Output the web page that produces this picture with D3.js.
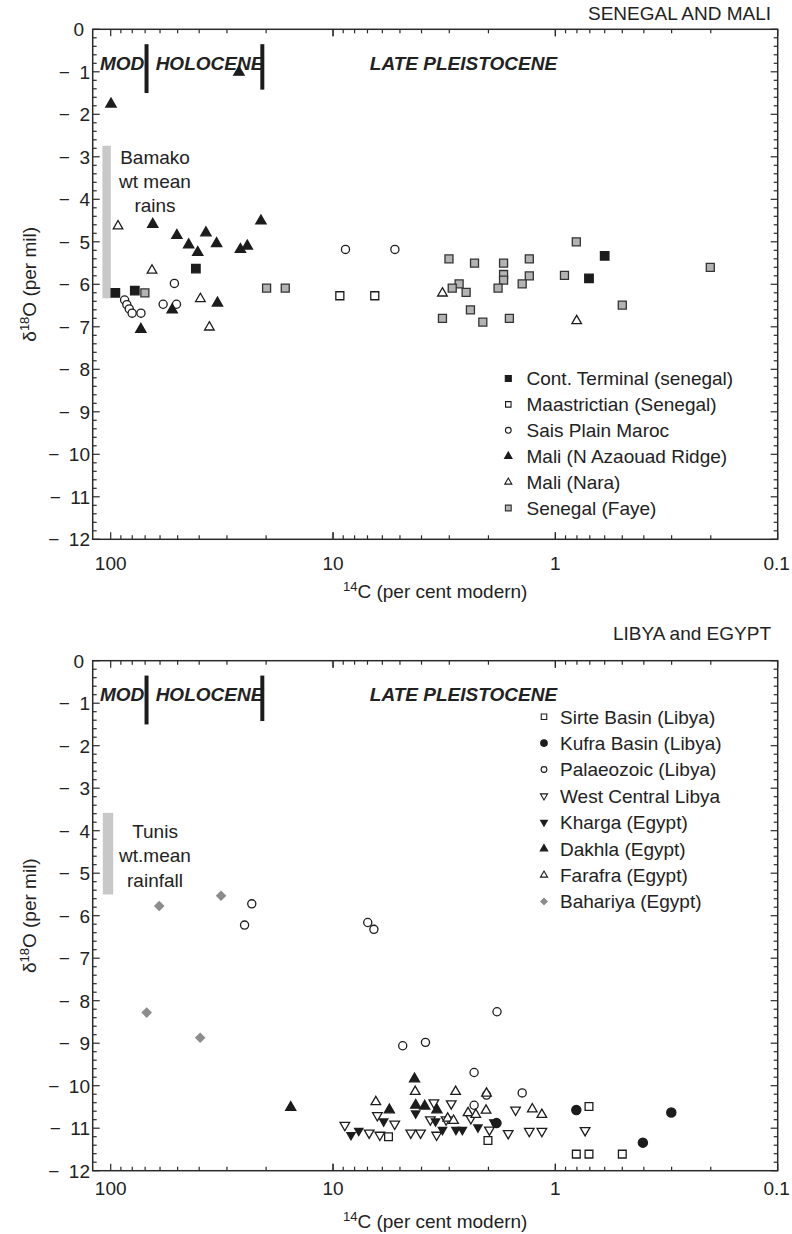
<!DOCTYPE html>
<html>
<head>
<meta charset="utf-8">
<script src="https://cdn.jsdelivr.net/npm/d3@7"></script>
<style>
  body { margin: 0; background: #fff; }
  svg { display: block; }
  text { font-family: "Liberation Sans", Arial, Helvetica, sans-serif; fill: #222; }
</style>
</head>
<body>
<div id="chart"></div>
<script>
// ---------- Senegal and Mali: [14C pmc, d18O per mil] ----------
const contTerminal = [[95.3,-6.20],[77.9,-6.15],[41.4,-5.63],[0.60,-5.33],[0.706,-5.86]];
const maastrictian = [[9.32,-6.27],[6.49,-6.27]];
const saisPlain = [[86.6,-6.37],[84.6,-6.48],[82.5,-6.58],[80.1,-6.68],[73.1,-6.68],
  [58.1,-6.47],[50.6,-6.47],[51.7,-5.98],[8.79,-5.18],[5.27,-5.18]];
const maliAzaouad = [[99.7,-1.76],[26.5,-1.01],[64.7,-4.59],[50.4,-4.85],[44.6,-5.07],
  [40.6,-5.25],[37.3,-4.79],[33.4,-5.04],[26.1,-5.18],[24.3,-5.10],[21.1,-4.51],
  [73.2,-7.06],[52.9,-6.60],[33.1,-6.44]];
const maliNara = [[92.7,-4.63],[65.2,-5.67],[39.5,-6.34],[36.0,-7.01],[3.22,-6.21],[0.802,-6.86]];
const senegalFaye = [[70.2,-6.20],[19.9,-6.09],[16.4,-6.09],[3.01,-5.40],[2.31,-5.50],
  [1.71,-5.50],[1.31,-5.40],[1.71,-5.77],[1.71,-5.90],[1.31,-5.80],[0.91,-5.79],
  [1.41,-5.99],[1.81,-6.09],[2.71,-5.99],[2.91,-6.09],[2.52,-6.19],[3.22,-6.80],
  [2.41,-6.60],[2.12,-6.89],[1.61,-6.80],[0.805,-5.00],[0.50,-6.49],[0.201,-5.60]];

// ---------- Libya and Egypt ----------
const sirteBasin = [[5.63,-11.20],[2.01,-11.29],[0.706,-10.49],[0.805,-11.61],[0.706,-11.61],[0.50,-11.61]];
const kufraBasin = [[1.84,-10.88],[0.805,-10.57],[0.301,-10.63],[0.404,-11.34]];
const palaeozoic = [[23.2,-5.72],[25.0,-6.22],[6.98,-6.16],[6.55,-6.32],[4.86,-9.06],
  [3.84,-8.98],[1.83,-8.26],[2.32,-9.69],[1.41,-10.17],[2.04,-10.22],[2.32,-10.46]];
const westCentral = [[8.85,-10.93],[6.88,-11.11],[6.16,-11.16],[6.32,-10.70],[5.28,-10.90],
  [4.47,-11.11],[4.04,-11.11],[3.52,-10.40],[3.42,-11.16],[2.94,-10.42],[3.65,-10.80],
  [3.10,-10.80],[2.40,-10.77],[1.98,-11.04],[1.63,-11.12],[1.51,-10.57],[1.31,-11.07],
  [1.15,-11.07],[0.735,-11.05]];
const kharga = [[8.30,-11.16],[7.66,-11.06],[5.92,-10.84],[4.25,-10.65],[3.46,-10.84],
  [3.22,-11.04],[2.80,-11.04],[2.62,-11.04],[2.23,-10.98],[1.89,-10.86]];
const dakhla = [[15.5,-10.51],[5.58,-10.57],[4.30,-9.84],[4.25,-10.46],[3.87,-10.48],[3.41,-10.57]];
const farafra = [[6.42,-10.38],[4.27,-10.14],[2.81,-10.14],[2.04,-10.18],[3.05,-10.77],
  [2.87,-10.82],[2.47,-10.64],[2.28,-10.68],[2.05,-10.58],[1.27,-10.55],[1.15,-10.68]];
const bahariya = [[68.9,-8.28],[60.5,-5.77],[39.6,-8.87],[31.9,-5.53]];

// ---------- axis ticks ----------
const yMajor = d3.range(0, -13, -1);
const xMajor = [100, 10, 1, 0.1];
const xTickLabels = ["100", "10", "1", "0.1"];

// ---------- layout ----------
const W = 792, H = 1234;
const X0 = 92.7, X1 = 777.7, PH = 510;
const svg = d3.select("#chart").append("svg").attr("width", W).attr("height", H);
const x = d3.scaleLog().domain([120.5, 0.1]).range([X0, X1]);

const INK = "#1c1c1c";
const shapes = {
  square:   { type: d3.symbolSquare,   rot: 0 },
  circle:   { type: d3.symbolCircle,   rot: 0 },
  triUp:    { type: d3.symbolTriangle, rot: 0 },
  triDown:  { type: d3.symbolTriangle, rot: 180 },
  diamond:  { type: d3.symbolSquare,   rot: 45 }
};

const panels = [
  {
    title: "SENEGAL AND MALI", top: 29.3, titleGap: 9.3, tickLabelGap: 30.7, xLabelGap: 59,
    band: { x: 106.6, w: 8.4, from: -2.74, to: -6.33 },
    bandText: ["Bamako", "wt mean", "rains"], bandTextY: [-3.18, -3.74, -4.31],
    legend: { mx: 508.3, tx: 526.5, y0: 378.5, step: 25.9 },
    series: [
      { name: "Cont. Terminal (senegal)", data: contTerminal, shape: "square", size: 72, lsize: 36, fill: INK, stroke: INK },
      { name: "Maastrictian (Senegal)", data: maastrictian, shape: "square", size: 64, lsize: 30, fill: "#fff", stroke: INK },
      { name: "Sais Plain Maroc", data: saisPlain, shape: "circle", size: 52, lsize: 26, fill: "#fff", stroke: INK },
      { name: "Mali (N Azaouad Ridge)", data: maliAzaouad, shape: "triUp", size: 46, lsize: 24, fill: INK, stroke: INK },
      { name: "Mali (Nara)", data: maliNara, shape: "triUp", size: 40, lsize: 22, fill: "#fff", stroke: INK },
      { name: "Senegal (Faye)", data: senegalFaye, shape: "square", size: 64, lsize: 34, fill: "#b3b3b3", stroke: "#333" }
    ]
  },
  {
    title: "LIBYA and EGYPT", top: 660.7, titleGap: 20.7, tickLabelGap: 24.3, xLabelGap: 57.3,
    band: { x: 108, w: 10.4, from: -3.58, to: -5.5 },
    bandText: ["Tunis", "wt.mean", "rainfall"], bandTextY: [-4.18, -4.73, -5.32],
    legend: { mx: 544, tx: 560, y0: 716.7, step: 26.4 },
    series: [
      { name: "Sirte Basin (Libya)", data: sirteBasin, shape: "square", size: 60, lsize: 30, fill: "#fff", stroke: INK },
      { name: "Kufra Basin (Libya)", data: kufraBasin, shape: "circle", size: 66, lsize: 34, fill: INK, stroke: INK },
      { name: "Palaeozoic (Libya)", data: palaeozoic, shape: "circle", size: 52, lsize: 26, fill: "#fff", stroke: INK },
      { name: "West Central Libya", data: westCentral, shape: "triDown", size: 40, lsize: 22, fill: "#fff", stroke: INK },
      { name: "Kharga (Egypt)", data: kharga, shape: "triDown", size: 30, lsize: 20, fill: INK, stroke: INK },
      { name: "Dakhla (Egypt)", data: dakhla, shape: "triUp", size: 44, lsize: 24, fill: INK, stroke: INK },
      { name: "Farafra (Egypt)", data: farafra, shape: "triUp", size: 40, lsize: 22, fill: "#fff", stroke: INK },
      { name: "Bahariya (Egypt)", data: bahariya, shape: "diamond", size: 56, lsize: 32, fill: "#8c8c8c", stroke: "none" }
    ]
  }
];

function symbolPath(shape, size) {
  return d3.symbol(shapes[shape].type, size)();
}

function drawPanel(p) {
  const y = d3.scaleLinear().domain([0, -12]).range([p.top, p.top + PH]);
  const g = svg.append("g");
  const Y0 = p.top, Y1 = p.top + PH;

  // rainfall reference band
  g.append("rect")
    .attr("x", p.band.x - p.band.w / 2).attr("width", p.band.w)
    .attr("y", y(p.band.from)).attr("height", y(p.band.to) - y(p.band.from))
    .attr("fill", "#c8c8c8");
  g.selectAll(".bandtxt").data(p.bandText).join("text")
    .attr("class", "bandtxt")
    .attr("x", x(63.2)).attr("y", (d, i) => y(p.bandTextY[i]))
    .attr("text-anchor", "middle").attr("font-size", 19).text(d => d);

  // period labels and dividers
  const eras = [{ t: "MOD", v: 111.7 }, { t: "HOLOCENE", v: 62.8 }, { t: "LATE PLEISTOCENE", v: 6.83 }];
  g.selectAll(".era").data(eras).join("text")
    .attr("class", "era")
    .attr("x", d => x(d.v)).attr("y", y(-0.95))
    .attr("font-size", 19).attr("font-weight", "bold").attr("font-style", "italic")
    .text(d => d.t);
  const dividers = [{ v: 69, lo: -1.5 }, { v: 20.8, lo: -1.42 }];
  g.selectAll(".div").data(dividers).join("line")
    .attr("class", "div")
    .attr("x1", d => x(d.v)).attr("x2", d => x(d.v))
    .attr("y1", y(-0.35)).attr("y2", d => y(d.lo))
    .attr("stroke", INK).attr("stroke-width", 4);

  // y ticks (left and right, inward)
  const yMinor = d3.range(0, -12.001, -0.2).map(v => +v.toFixed(1));
  yMinor.forEach(v => {
    const major = Math.abs(v - Math.round(v)) < 1e-6;
    const len = major ? 7 : 4;
    g.append("line").attr("x1", X0).attr("x2", X0 + len).attr("y1", y(v)).attr("y2", y(v))
      .attr("stroke", "#2a2a2a").attr("stroke-width", 1.2);
    g.append("line").attr("x1", X1 - len).attr("x2", X1).attr("y1", y(v)).attr("y2", y(v))
      .attr("stroke", "#2a2a2a").attr("stroke-width", 1.2);
  });

  // x ticks (top and bottom, inward) on log decades
  const xMinor = [];
  [100, 10, 1].forEach(dec => { for (let k = 10; k >= 1; k--) xMinor.push(dec * k / 10); });
  xMinor.forEach(v => {
    const major = xMajor.some(m => Math.abs(m - v) / m < 1e-6);
    const len = major ? 7 : 4;
    g.append("line").attr("x1", x(v)).attr("x2", x(v)).attr("y1", Y1 - len).attr("y2", Y1)
      .attr("stroke", "#2a2a2a").attr("stroke-width", 1.2);
    g.append("line").attr("x1", x(v)).attr("x2", x(v)).attr("y1", Y0).attr("y2", Y0 + len)
      .attr("stroke", "#2a2a2a").attr("stroke-width", 1.2);
  });
  g.selectAll(".xlab").data(xMajor).join("text")
    .attr("class", "xlab")
    .attr("x", (d, i) => i === 3 ? x(d) - 1 : x(d)).attr("y", Y1 + p.tickLabelGap)
    .attr("text-anchor", "middle").attr("font-size", 19)
    .text((d, i) => xTickLabels[i]);

  // frame
  g.append("rect").attr("x", X0).attr("y", Y0).attr("width", X1 - X0).attr("height", PH)
    .attr("fill", "none").attr("stroke", "#2a2a2a").attr("stroke-width", 1.5);

  // axis titles
  const xl = g.append("text").attr("x", (X0 + X1) / 2).attr("y", Y1 + p.xLabelGap)
    .attr("text-anchor", "middle").attr("font-size", 19);
  xl.append("tspan").attr("font-size", 13).attr("dy", -7).text("14");
  xl.append("tspan").attr("dy", 7).text("C (per cent modern)");

  const yl = g.append("text")
    .attr("transform", `translate(36,${(Y0 + Y1) / 2}) rotate(-90)`)
    .attr("text-anchor", "middle").attr("font-size", 19);
  yl.append("tspan").text("\u03b4");
  yl.append("tspan").attr("font-size", 13).attr("dy", -7).text("18");
  yl.append("tspan").attr("dy", 7).text("O (per mil)");

  // panel title
  g.append("text").attr("x", 771).attr("y", Y0 - p.titleGap)
    .attr("text-anchor", "end").attr("font-size", 19).text(p.title);

  // data points
  p.series.forEach(s => {
    g.append("g").selectAll("path").data(s.data).join("path")
      .attr("d", symbolPath(s.shape, s.size))
      .attr("transform", d => `translate(${x(d[0])},${y(d[1])}) rotate(${shapes[s.shape].rot})`)
      .attr("fill", s.fill).attr("stroke", s.stroke).attr("stroke-width", 1.3);
  });

  // legend
  const lg = g.append("g");
  p.series.forEach((s, i) => {
    const ly = p.legend.y0 + i * p.legend.step;
    lg.append("path").attr("d", symbolPath(s.shape, s.lsize))
      .attr("transform", `translate(${p.legend.mx},${ly}) rotate(${shapes[s.shape].rot})`)
      .attr("fill", s.fill).attr("stroke", s.stroke).attr("stroke-width", 1.1);
    lg.append("text").attr("x", p.legend.tx).attr("y", ly).attr("dy", "0.36em")
      .attr("font-size", 19).text(s.name);
  });

  // y tick labels, drawn last: right-aligned with a spaced minus sign
  const yl2 = g.append("g").attr("class", "ytick-labels");
  yMajor.forEach(d => {
    yl2.append("text")
      .attr("x", d === 0 ? 84 : 90).attr("y", y(d)).attr("dy", "0.36em")
      .attr("text-anchor", "end").attr("font-size", 19).attr("fill", "#222")
      .text(d === 0 ? "0" : "\u2212\u2002" + Math.abs(d));
  });
}

panels.forEach(drawPanel);
</script>
</body>
</html>
